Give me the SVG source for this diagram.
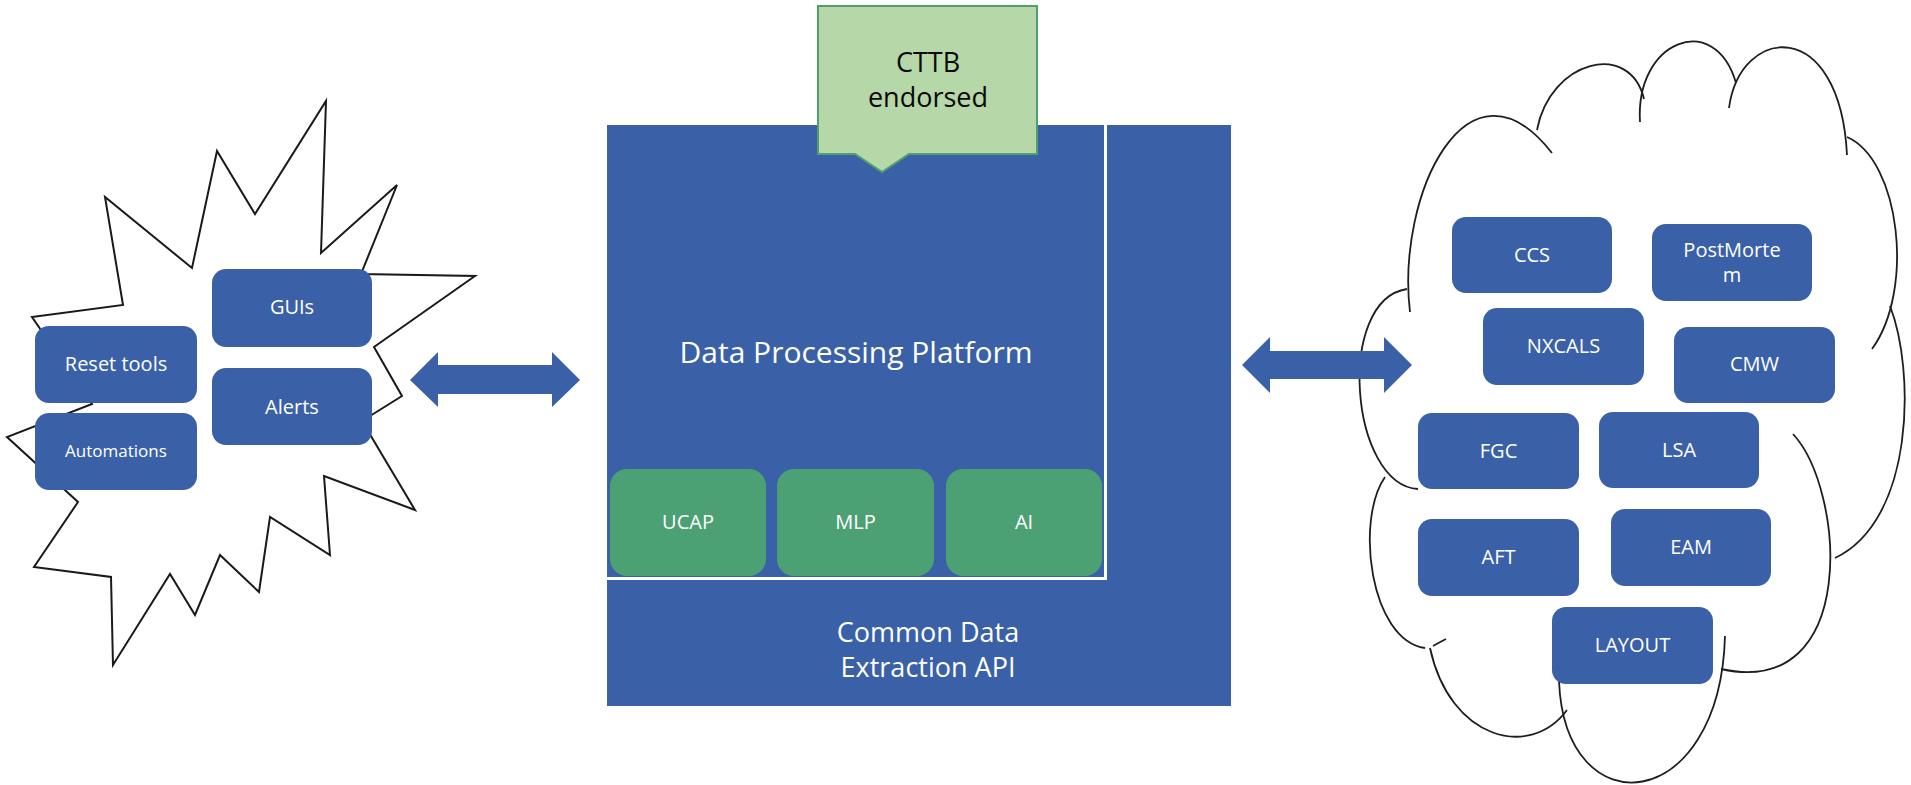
<svg xmlns="http://www.w3.org/2000/svg" width="1911" height="785" viewBox="0 0 1911 785">
<style>
.box{fill:#3A61A8;}
.gbox{fill:#4CA174;}
.lbl{font-family:"Open Sans","Liberation Sans",sans-serif;fill:#FFFFFF;text-anchor:middle;}
.s20{font-size:20px;}
.cloud path{fill:none;stroke:#1E1E1E;stroke-width:1.8;}
.arrow{fill:#3A61A8;}
</style>
<rect width="1911" height="785" fill="#FFFFFF"/>

<!-- starburst -->
<g id="starburst">
<polygon points="326,101 321,253 397,185 361,274 475,276 374,347 402,396 362,421 415,510 324,476 330,555 270,517 259,592 220,555 195,615 170,574 113,665 111,577 34,567 78,502 7,437 92,404 32,317 123,305 105,197 192,268 217,151 255,214" fill="#FFFFFF" stroke="#1A1A1A" stroke-width="2"/>
</g>

<!-- cloud -->
<g id="cloud" class="cloud">
<path d="M1410,312 C1396,195 1468,45 1552,153"/>
<path d="M1537,130 C1550,60 1630,40 1644,99"/>
<path d="M1640,122 C1635,40 1715,10 1736,83"/>
<path d="M1729,108 C1740,25 1840,15 1847,155"/>
<path d="M1847,137 C1900,160 1915,290 1872,349"/>
<path d="M1890,306 C1915,370 1915,520 1835,558"/>
<path d="M1793,434 C1845,490 1860,700 1721,669"/>
<path d="M1725,636 C1720,815 1565,830 1559,681"/>
<path d="M1567,710 C1530,760 1450,740 1430,648"/>
<path d="M1433,646 Q1440,642 1446,639"/>
<path d="M1425,648 C1370,640 1355,520 1385,477"/>
<path d="M1418,489 C1350,485 1335,300 1407,289"/>
</g>

<!-- connectors -->
<g id="connectors">
<polygon class="arrow" points="410,380 438,352 438,365 552,365 552,352 580,380 552,407 552,394 438,394 438,407"/>
<polygon class="arrow" points="1242,365 1270,337 1270,351 1384,351 1384,337 1412,365 1384,393 1384,379 1270,379 1270,393"/>
</g>

<!-- central platform -->
<g id="api">
<rect class="box" x="607" y="125" width="624" height="581"/>
<text class="lbl" x="928" y="642" font-size="27">Common Data</text>
<text class="lbl" x="928" y="677" font-size="27">Extraction API</text>
</g>
<g id="dpp">
<rect class="box" x="607" y="125" width="498" height="453"/>
<polyline points="1105.5,125 1105.5,578.5 607,578.5" fill="none" stroke="#FFFFFF" stroke-width="3"/>
<text class="lbl" x="856" y="363" font-size="30">Data Processing Platform</text>
</g>
<g id="ucap">
<rect class="gbox" x="610" y="469" width="156" height="107" rx="17"/>
<text class="lbl s20" x="688" y="529">UCAP</text>
</g>
<g id="mlp">
<rect class="gbox" x="777" y="469" width="157" height="107" rx="17"/>
<text class="lbl s20" x="855.5" y="529">MLP</text>
</g>
<g id="ai">
<rect class="gbox" x="946" y="469" width="156" height="107" rx="17"/>
<text class="lbl s20" x="1024" y="529">AI</text>
</g>
<g id="cttb">
<path d="M818,6 H1037 V154 H909 L882,172 L855,154 H818 Z" fill="#B6D7A8" stroke="#4F9F6F" stroke-width="2"/>
<text class="lbl" x="928" y="72" font-size="27" style="fill:#0A0A0A">CTTB</text>
<text class="lbl" x="928" y="107" font-size="27" style="fill:#0A0A0A">endorsed</text>
</g>

<!-- left boxes -->
<g id="guis">
<rect class="box" x="212" y="269" width="160" height="78" rx="14"/>
<text class="lbl s20" x="292" y="314">GUIs</text>
</g>
<g id="alerts">
<rect class="box" x="212" y="368" width="160" height="77" rx="14"/>
<text class="lbl s20" x="292" y="414">Alerts</text>
</g>
<g id="reset-tools">
<rect class="box" x="35" y="326" width="162" height="77" rx="14"/>
<text class="lbl s20" x="116" y="371">Reset tools</text>
</g>
<g id="automations">
<rect class="box" x="35" y="413" width="162" height="77" rx="14"/>
<text class="lbl" x="116" y="457" font-size="17">Automations</text>
</g>

<!-- cloud boxes -->
<g id="ccs">
<rect class="box" x="1452" y="217" width="160" height="76" rx="14"/>
<text class="lbl s20" x="1532" y="262">CCS</text>
</g>
<g id="postmortem">
<rect class="box" x="1652" y="224" width="160" height="77" rx="14"/>
<text class="lbl s20" x="1732" y="257">PostMorte</text>
<text class="lbl s20" x="1732" y="282">m</text>
</g>
<g id="nxcals">
<rect class="box" x="1483" y="308" width="161" height="77" rx="14"/>
<text class="lbl s20" x="1563.5" y="353">NXCALS</text>
</g>
<g id="cmw">
<rect class="box" x="1674" y="327" width="161" height="76" rx="14"/>
<text class="lbl s20" x="1754.5" y="371">CMW</text>
</g>
<g id="fgc">
<rect class="box" x="1418" y="413" width="161" height="76" rx="14"/>
<text class="lbl s20" x="1498.5" y="458">FGC</text>
</g>
<g id="lsa">
<rect class="box" x="1599" y="412" width="160" height="76" rx="14"/>
<text class="lbl s20" x="1679" y="457">LSA</text>
</g>
<g id="aft">
<rect class="box" x="1418" y="519" width="161" height="77" rx="14"/>
<text class="lbl s20" x="1498.5" y="564">AFT</text>
</g>
<g id="eam">
<rect class="box" x="1611" y="509" width="160" height="77" rx="14"/>
<text class="lbl s20" x="1691" y="554">EAM</text>
</g>
<g id="layout">
<rect class="box" x="1552" y="607" width="161" height="77" rx="14"/>
<text class="lbl s20" x="1632.5" y="652">LAYOUT</text>
</g>
</svg>
